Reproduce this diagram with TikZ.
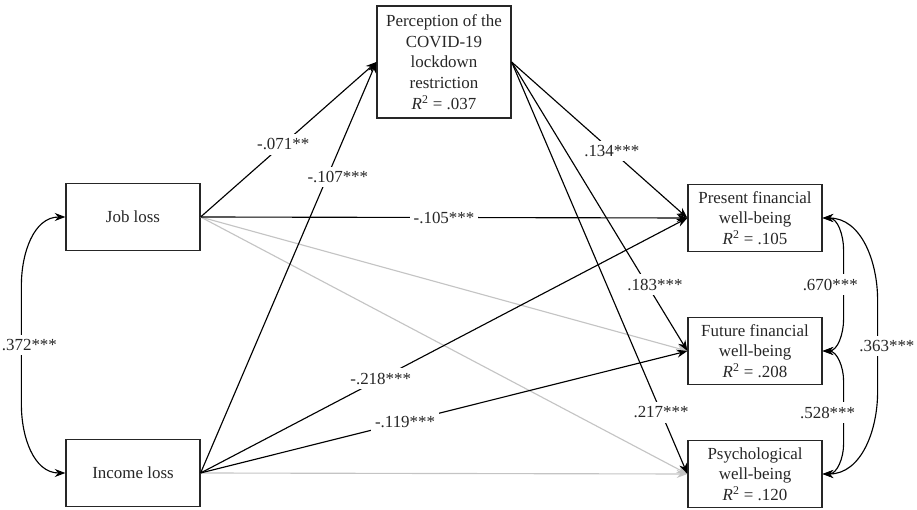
\documentclass[tikz,border=0pt]{standalone}
\usepackage{fontspec}
\setmainfont{Liberation Serif}
\usetikzlibrary{arrows.meta}
\definecolor{nsgray}{RGB}{196,196,196}
\newcommand{\Rsq}{\textit{R}\textsuperscript{2}}

\tikzset{
  var/.style={draw=black!85, line width=0.9pt, minimum width=100.5pt, minimum height=50.25pt, align=center, inner sep=1pt, text=black!85},
  sig/.style={-{Stealth[length=8pt,width=6pt]}, line width=0.85pt},
  nonsig/.style={sig, draw=nsgray},
  coef/.style={fill=white, inner xsep=3pt, inner ysep=3.5pt, text=black!85},
  cov/.style={{Stealth[length=8pt,width=6pt]}-{Stealth[length=8pt,width=6pt]}, line width=0.85pt},
}

\begin{document}
\begin{tikzpicture}[x=0.75pt, y=0.75pt, font=\fontsize{12.7}{15.5}\selectfont]
    \useasboundingbox (0,0) rectangle (917,510);

    % observed variables
    \node[var] (job) at (133,293) {Job loss};
    \node[var] (income) at (133,37) {Income loss};
    \node[var, minimum height=84pt] (lock) at (444,448) {Perception of the\\COVID-19\\lockdown\\restriction\\\Rsq{} = .037};
    \node[var] (present) at (755,292) {Present financial\\well-being\\\Rsq{} = .105};
    \node[var] (future) at (755,159) {Future financial\\well-being\\\Rsq{} = .208};
    \node[var] (psych) at (755,36) {Psychological\\well-being\\\Rsq{} = .120};

    % non-significant paths
    \draw[nonsig] (job.east) -- (future.west);
    \draw[nonsig] (job.east) -- (psych.west);
    \draw[nonsig] (income.east) -- (psych.west);

    % significant paths
    \draw[sig] (job.east) -- node[coef, pos=0.47] {-.071**} (lock.west);
    \draw[sig] (income.east) -- node[coef, pos=0.72, xshift=8pt] {-.107***} (lock.west);
    \draw[sig] (job.east) -- node[coef, pos=0.5] {-.105***} (present.west);
    \draw[sig] (income.east) -- node[coef, pos=0.37] {-.218***} (present.west);
    \draw[sig] (income.east) -- node[coef, pos=0.42] {-.119***} (future.west);
    \draw[sig] (lock.east) -- node[coef, pos=0.57] {.134***} (present.west);
    \draw[sig] (lock.east) -- node[coef, pos=0.77, xshift=6pt] {.183***} (future.west);
    \draw[sig] (lock.east) -- node[coef, pos=0.85] {.217***} (psych.west);

    % covariances
    \draw[cov] (job.west) to[out=180,in=90] ++(-44,-68) -- node[coef, xshift=6pt] {.372***} ++(0,-120) to[out=-90,in=180] (income.west);
    \draw[cov] (present.east) to[out=0,in=90] ++(21,-32) -- node[coef, xshift=-10pt] {.670***} ++(0,-69) to[out=-90,in=0] (future.east);
    \draw[cov] (future.east) to[out=0,in=90] ++(21,-30) -- node[coef, xshift=-12pt] {.528***} ++(0,-63) to[out=-90,in=0] (psych.east);
    \draw[cov] (present.east) to[out=0,in=90] ++(55,-82) -- node[coef, xshift=7pt] {.363***} ++(0,-92) to[out=-90,in=0] (psych.east);
\end{tikzpicture}
\end{document}
